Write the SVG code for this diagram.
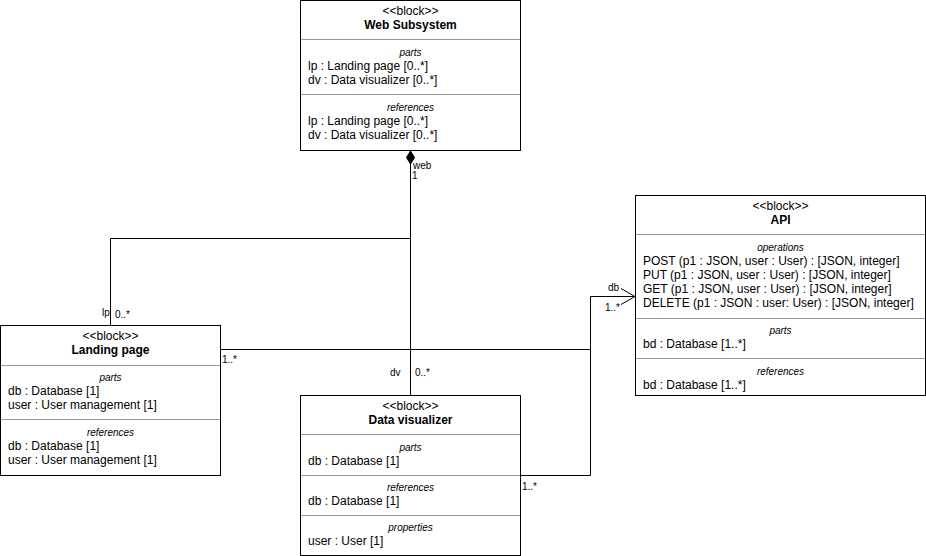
<svg xmlns="http://www.w3.org/2000/svg" width="926" height="556" viewBox="0 0 926 556">
<defs>
<style>
text{font-family:"Liberation Sans",Arial,sans-serif;font-size:12px;fill:#000}
.c{text-anchor:middle}
.b{font-weight:bold}
.i{font-style:italic;font-size:10px}
.l{font-size:10px}
.box{fill:#fff;stroke:#000;stroke-width:1}
.sep{stroke:#999;stroke-width:1}
.e{fill:none;stroke:#000;stroke-width:1}
</style>
<marker id="open" markerWidth="16" markerHeight="18" refX="15" refY="9" orient="auto" markerUnits="userSpaceOnUse">
<path d="M1,1 L15,9 L1,17" fill="none" stroke="#000" stroke-width="1"/>
</marker>
</defs>
<rect width="926" height="556" fill="#fff"/>
<g id="connectors">
<path class="e" d="M410.5,164 L410.5,395"/>
<path d="M410.5,151 L414.5,157.5 L410.5,164 L406.5,157.5 Z" fill="#000" stroke="#000"/>
<path class="e" d="M410.5,238.5 L110.5,238.5 L110.5,325"/>
<path class="e" d="M220,349.5 L590.5,349.5"/>
<path class="e" d="M520,475.5 L590.5,475.5 L590.5,296.5 L635,296.5" marker-end="url(#open)"/>
<text class="l" x="413" y="169">web</text>
<text class="l" x="412" y="179">1</text>
<text class="l" x="102" y="316">lp</text>
<text class="l" x="115" y="318">0..*</text>
<text class="l" x="390" y="376">dv</text>
<text class="l" x="415" y="376">0..*</text>
<text class="l" x="222" y="363">1..*</text>
<text class="l" x="522" y="490">1..*</text>
<text class="l" x="608" y="291">db</text>
<text class="l" x="605" y="311">1..*</text>
</g>
<g id="web-subsystem">
<rect class="box" x="300.5" y="0.5" width="220" height="150"/>
<line class="sep" x1="301" y1="39.5" x2="520" y2="39.5"/>
<line class="sep" x1="301" y1="94.5" x2="520" y2="94.5"/>
<text class="c" x="410.5" y="14.5">&lt;&lt;block&gt;&gt;</text>
<text class="c b" x="410.5" y="28.5">Web Subsystem</text>
<text class="c i" x="410.5" y="55.5">parts</text>
<text x="308" y="70">lp : Landing page [0..*]</text>
<text x="308" y="84">dv : Data visualizer [0..*]</text>
<text class="c i" x="410.5" y="110.5">references</text>
<text x="308" y="125">lp : Landing page [0..*]</text>
<text x="308" y="139">dv : Data visualizer [0..*]</text>
</g>
<g id="landing-page">
<rect class="box" x="0.5" y="325.5" width="220" height="150"/>
<line class="sep" x1="1" y1="365.5" x2="220" y2="365.5"/>
<line class="sep" x1="1" y1="419.5" x2="220" y2="419.5"/>
<text class="c" x="110.5" y="339.5">&lt;&lt;block&gt;&gt;</text>
<text class="c b" x="110.5" y="353.5">Landing page</text>
<text class="c i" x="110.5" y="380.5">parts</text>
<text x="8" y="395">db : Database [1]</text>
<text x="8" y="409">user : User management [1]</text>
<text class="c i" x="110.5" y="435.5">references</text>
<text x="8" y="450">db : Database [1]</text>
<text x="8" y="464">user : User management [1]</text>
</g>
<g id="data-visualizer">
<rect class="box" x="300.5" y="395.5" width="220" height="160"/>
<line class="sep" x1="301" y1="434.5" x2="520" y2="434.5"/>
<line class="sep" x1="301" y1="475.5" x2="520" y2="475.5"/>
<line class="sep" x1="301" y1="515.5" x2="520" y2="515.5"/>
<text class="c" x="410.5" y="409.5">&lt;&lt;block&gt;&gt;</text>
<text class="c b" x="410.5" y="423.5">Data visualizer</text>
<text class="c i" x="410.5" y="450.5">parts</text>
<text x="308" y="465">db : Database [1]</text>
<text class="c i" x="410.5" y="490.5">references</text>
<text x="308" y="505">db : Database [1]</text>
<text class="c i" x="410.5" y="530.5">properties</text>
<text x="308" y="545">user : User [1]</text>
</g>
<g id="api">
<rect class="box" x="635.5" y="195.5" width="290" height="200"/>
<line class="sep" x1="636" y1="234.5" x2="925" y2="234.5"/>
<line class="sep" x1="636" y1="318.5" x2="925" y2="318.5"/>
<line class="sep" x1="636" y1="358.5" x2="925" y2="358.5"/>
<text class="c" x="780.5" y="209.5">&lt;&lt;block&gt;&gt;</text>
<text class="c b" x="780.5" y="223.5">API</text>
<text class="c i" x="780.5" y="250.5">operations</text>
<text x="643" y="265">POST (p1 : JSON, user : User) : [JSON, integer]</text>
<text x="643" y="279">PUT (p1 : JSON, user : User) : [JSON, integer]</text>
<text x="643" y="293">GET (p1 : JSON, user : User) : [JSON, integer]</text>
<text x="643" y="307">DELETE (p1 : JSON : user: User) : [JSON, integer]</text>
<text class="c i" x="780.5" y="333.5">parts</text>
<text x="643" y="348">bd : Database [1..*]</text>
<text class="c i" x="780.5" y="374.5">references</text>
<text x="643" y="389">bd : Database [1..*]</text>
</g>
</svg>
